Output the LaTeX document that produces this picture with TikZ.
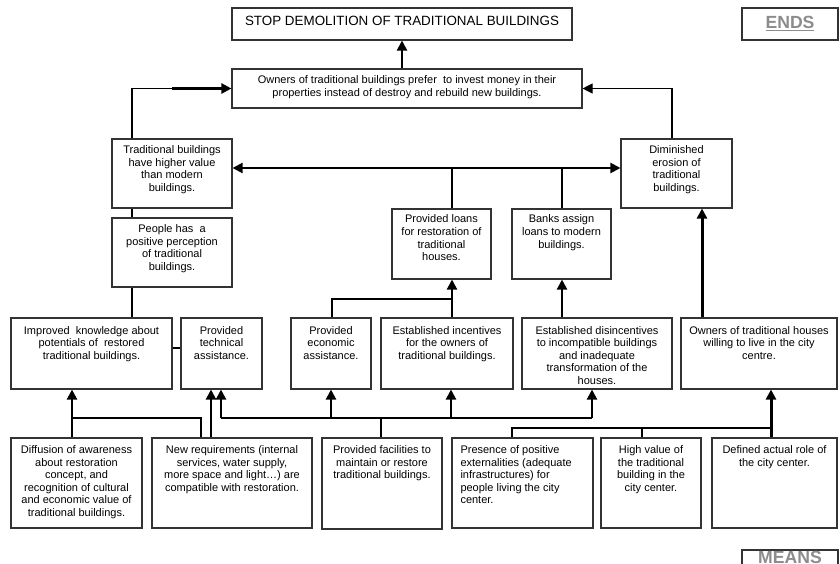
\documentclass[tikz,border=0pt]{standalone}
\usepackage{fontspec}
\setmainfont{Liberation Sans}
\usetikzlibrary{arrows.meta}
\definecolor{endgray}{HTML}{8C8C8C}
\definecolor{bord}{HTML}{333333}
\tikzset{
  box/.style={draw=bord, line width=1.1pt, inner sep=0pt, fill=white, font=\fontsize{11}{12.6}\selectfont},
  thn/.style={line width=1.1pt},
  thk/.style={line width=2.2pt},
  vthk/.style={line width=3pt},
  >={Triangle[width=10pt,length=10pt]}
}
% name, x1, y1, x2, y2, top offset, text
\newcommand\bx[7]{\node[box] (#1) at ({(#2+#4)/2},{(#3+#5)/2})
  {\parbox[c][\dimexpr#5pt-#3pt\relax][t]{\dimexpr#4pt-#2pt\relax}{\vspace*{#6pt}\centering #7\par}};}
\newcommand\bxl[7]{\node[box] (#1) at ({(#2+#4)/2},{(#3+#5)/2})
  {\parbox[c][\dimexpr#5pt-#3pt\relax][t]{\dimexpr#4pt-#2pt\relax}{\vspace*{#6pt}\raggedright\leftskip=8.5pt #7\par}};}
\newcommand\lbl[1]{{\fontsize{17.6}{20}\selectfont\bfseries\color{endgray}\underline{#1}}}
\begin{document}
\begin{tikzpicture}[x=1pt,y=-1pt]
\useasboundingbox (0,0) rectangle (840,564);
\clip (0,0) rectangle (840,564);
% top
\bx{stop}{232}{8}{572}{40}{8.2}{{\fontsize{13.4}{15}\selectfont STOP DEMOLITION OF TRADITIONAL BUILDINGS}}
\bx{ends}{742}{8}{838}{40}{8.5}{\lbl{ENDS}}
\bx{owners}{232}{69}{582}{108}{6.5}{Owners of traditional buildings prefer\ \ to invest money in their\\properties instead of destroy and rebuild new buildings.}
% row 2
\bx{trad}{112}{139}{232}{208}{6.5}{Traditional buildings\\have higher value\\than modern\\buildings.}
\bx{dimin}{621}{139}{732}{208}{6.5}{Diminished\\erosion of\\traditional\\buildings.}
\bx{people}{112}{218}{232}{287}{6.5}{People has\ \ a\\positive perception\\of traditional\\buildings.}
\bx{loans}{392}{209}{491}{279}{5.9}{Provided loans\\for restoration of\\traditional\\houses.}
\bx{banks}{512}{209}{611}{279}{5.9}{Banks assign\\loans to modern\\buildings.}
% row 3
\bx{improved}{11}{318}{172}{389}{8.2}{Improved\ \ knowledge about\\potentials of\ \ restored\\traditional buildings.}
\bx{tech}{181}{318}{262}{389}{8.2}{Provided\\technical\\assistance.}
\bx{econ}{291}{318}{371}{389}{8.2}{Provided\\economic\\assistance.}
\bx{incent}{381}{318}{513}{389}{8.2}{Established incentives\\for the owners of\\traditional buildings.}
\bx{disinc}{522}{318}{672}{389}{8.2}{Established disincentives\\to incompatible buildings\\and inadequate\\transformation of the\\houses.}
\bx{ownh}{681}{318}{837}{389}{8.2}{Owners of traditional houses\\willing to live in the city\\centre.}
% row 4
\bx{diff}{11}{438}{142}{528}{7.5}{Diffusion of awareness\\about restoration\\concept, and\\recognition of cultural\\and economic value of\\traditional buildings.}
\bx{newreq}{152}{438}{312}{528}{7.5}{New requirements (internal\\services, water supply,\\more space and light…) are\\compatible with restoration.}
\bx{facil}{322}{438}{442}{529}{7.5}{Provided facilities to\\maintain or restore\\traditional buildings.}
\bxl{presence}{452}{438}{593}{528}{7.5}{Presence of positive\\externalities (adequate\\infrastructures) for\\people living the city\\center.}
\bx{highval}{601}{438}{701}{528}{7.5}{High value of\\the traditional\\building in the\\city center.}
\bx{defined}{712}{438}{837}{528}{7.5}{Defined actual role of\\the city center.}
\bx{means}{742}{550}{838}{590}{1.2}{\lbl{MEANS}}
% junction coordinates
\coordinate (hl) at (0,168);
\coordinate (jt) at (0,348);
\coordinate (j1) at (0,299);
\coordinate (b1) at (0,418);
\coordinate (b2) at (0,428);
% connectors
\draw[thk,->] (402,0 |- owners.north) -- (402,0 |- stop.south);
\draw[thn] (132,0 |- trad.north) |- (172,0 |- owners.west);
\draw[thk,->] (172,0 |- owners.west) -- (owners.west);
\draw[thn,->] (672,0 |- dimin.north) |- (owners.east);
\draw[thk,<->] (trad.east |- hl) -- (dimin.west |- hl);
\draw[thn] (132,0 |- trad.south) -- (132,0 |- people.north);
\draw[thn] (132,0 |- people.south) -- (132,0 |- improved.north);
\draw[thn] (452,0 |- loans.north) -- (452,0 |- hl);
\draw[thn] (562,0 |- banks.north) -- (562,0 |- hl);
\draw[thn] (improved.east |- jt) -- (tech.west |- jt);
\draw[thn] (332,0 |- econ.north) |- (452,0 |- j1);
\draw[thk,->] (452,0 |- incent.north) -- (452,0 |- loans.south);
\draw[thk,->] (562,0 |- disinc.north) -- (562,0 |- banks.south);
\draw[vthk,->] (702,0 |- ownh.north) -- (702,0 |- dimin.south);
\draw[thk,->] (72,0 |- diff.north) -- (72,0 |- improved.south);
\draw[thn] (201,0 |- newreq.north) |- (72,0 |- b1);
\draw[thk,->] (211,0 |- newreq.north) -- (211,0 |- tech.south);
\draw[thn] (381,0 |- facil.north) -- (381,0 |- b1);
\draw[thn] (221,0 |- b1) -- (592,0 |- b1);
\draw[thk,->] (221,0 |- b1) -- (221,0 |- tech.south);
\draw[thk,->] (331,0 |- b1) -- (331,0 |- econ.south);
\draw[thk,->] (451,0 |- b1) -- (451,0 |- incent.south);
\draw[thk,->] (592,0 |- b1) -- (592,0 |- disinc.south);
\draw[thn] (512,0 |- presence.north) |- (771,0 |- b2);
\draw[thn] (642,0 |- highval.north) -- (642,0 |- b2);
\draw[vthk,->] (771,0 |- defined.north) -- (771,0 |- ownh.south);
\end{tikzpicture}
\end{document}
